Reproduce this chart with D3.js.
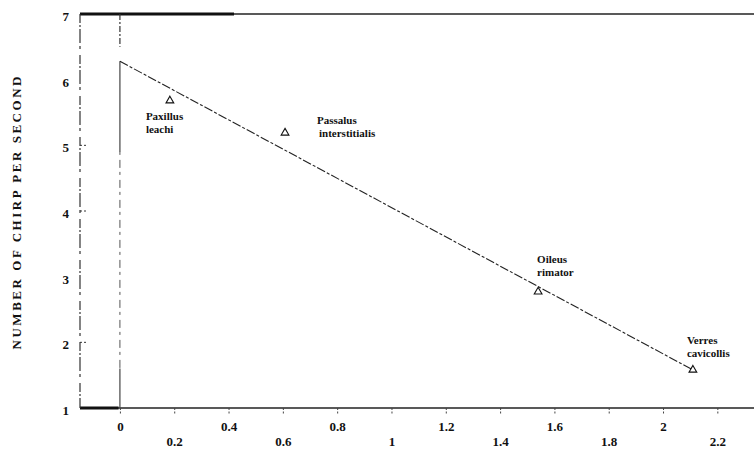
<!DOCTYPE html>
<html>
<head>
<meta charset="utf-8">
<script src="https://cdn.jsdelivr.net/npm/d3@7"></script>
<style>
  body { margin: 0; background: #fff; }
  text { font-family: "Liberation Serif", serif; fill: #111; }
</style>
</head>
<body>
<script>
// beetles: body weight (x) vs chirps per second (y)
const species = ["Paxillus leachi", "Passalus interstitialis", "Oileus rimator", "Verres cavicollis"];
const weights = [0.184, 0.608, 1.54, 2.11];
const chirps = [5.68, 5.19, 2.77, 1.58];
const fitX = [0, 2.11];
const fitY = [6.28, 1.58];
const xTicks = [0, 0.2, 0.4, 0.6, 0.8, 1, 1.2, 1.4, 1.6, 1.8, 2, 2.2];
const yTicks = [1, 2, 3, 4, 5, 6, 7];

const w = 754;
const h = 452;

const svg = d3.select("body")
  .append("svg")
  .attr("width", w)
  .attr("height", h);

const xScale = d3.scaleLinear()
  .domain([-0.147, 2.335])
  .range([80, 754]);

const yScale = d3.scaleLinear()
  .domain([1, 7])
  .range([408, 14]);

const x0 = xScale.range()[0], x1 = xScale.range()[1];
const yTop = yScale(7), yBot = yScale(1);

// frame
svg.append("line")  // top, thick part
  .attr("x1", x0).attr("x2", 234).attr("y1", yTop).attr("y2", yTop)
  .attr("stroke", "#111").attr("stroke-width", 3);
svg.append("line")
  .attr("x1", 234).attr("x2", x1).attr("y1", yTop).attr("y2", yTop)
  .attr("stroke", "#222").attr("stroke-width", 1.3);
svg.append("line")  // bottom
  .attr("x1", x0).attr("x2", x1).attr("y1", yBot).attr("y2", yBot)
  .attr("stroke", "#222").attr("stroke-width", 1.3);
svg.append("line")
  .attr("x1", x0).attr("x2", xScale(-0.005)).attr("y1", yBot).attr("y2", yBot)
  .attr("stroke", "#111").attr("stroke-width", 3);
svg.append("line")  // left, broken
  .attr("x1", x0).attr("x2", x0).attr("y1", yTop).attr("y2", yBot)
  .attr("stroke", "#333").attr("stroke-width", 1.2)
  .attr("stroke-dasharray", "9,2,2,2,14,3,3,6");

// zero line
svg.append("line")
  .attr("x1", xScale(0)).attr("x2", xScale(0))
  .attr("y1", yTop).attr("y2", yScale(6.5))
  .attr("stroke", "#333").attr("stroke-width", 1.2)
  .attr("stroke-dasharray", "6,2,2,2");
svg.append("line")
  .attr("x1", xScale(0)).attr("x2", xScale(0))
  .attr("y1", yScale(fitY[0])).attr("y2", yScale(4.9))
  .attr("stroke", "#444").attr("stroke-width", 1.2);
svg.append("line")
  .attr("x1", xScale(0)).attr("x2", xScale(0))
  .attr("y1", yScale(4.9)).attr("y2", yScale(1.6))
  .attr("stroke", "#555").attr("stroke-width", 1)
  .attr("stroke-dasharray", "3,5,8,4");
svg.append("line")
  .attr("x1", xScale(0)).attr("x2", xScale(0))
  .attr("y1", yScale(1.6)).attr("y2", yBot)
  .attr("stroke", "#444").attr("stroke-width", 1.2);

// x axis
const xAxis = d3.axisBottom(xScale)
  .tickValues(xTicks)
  .tickSize(7)
  .tickPadding(0)
  .tickFormat(d3.format("~g"));

const gx = svg.append("g")
  .attr("transform", "translate(0," + yBot + ")")
  .call(xAxis);
gx.select(".domain").remove();
gx.selectAll(".tick line")
  .attr("stroke", "#444")
  .attr("stroke-dasharray", "2,1.5");
gx.selectAll(".tick text")
  .attr("dy", null)
  .attr("y", (d, i) => i % 2 === 0 ? 23 : 38)
  .attr("font-size", "13px")
  .attr("font-weight", "bold")
  .attr("font-family", "Liberation Serif")
  .attr("fill", "#111");

// y axis
const yAxis = d3.axisLeft(yScale)
  .tickValues(yTicks)
  .tickSize(0)
  .tickPadding(11)
  .tickFormat(d3.format("d"));

const gy = svg.append("g")
  .attr("transform", "translate(" + x0 + ",0)")
  .call(yAxis);
gy.select(".domain").remove();
gy.selectAll(".tick text")
  .attr("dy", "0.5em")
  .attr("font-size", "13px")
  .attr("font-weight", "bold")
  .attr("font-family", "Liberation Serif")
  .attr("fill", "#111");

// small inward tick marks
svg.selectAll(".ymark")
  .data([5, 4, 2])
  .enter()
  .append("line")
  .attr("class", "ymark")
  .attr("x1", x0).attr("x2", x0 + 7)
  .attr("y1", (d) => yScale(d)).attr("y2", (d) => yScale(d))
  .attr("stroke", "#333")
  .attr("stroke-dasharray", "2,2");

svg.append("text")
  .attr("transform", "translate(21," + 213 + ") rotate(-90)")
  .attr("text-anchor", "middle")
  .attr("font-size", "13px")
  .attr("font-weight", "bold")
  .attr("textLength", 273)
  .attr("lengthAdjust", "spacing")
  .text("NUMBER OF CHIRP PER SECOND");

// regression line
const fit = fitX.map((d, i) => [d, fitY[i]]);
svg.append("path")
  .datum(fit)
  .attr("fill", "none")
  .attr("stroke", "#222")
  .attr("stroke-width", 1.1)
  .attr("stroke-dasharray", "9,2,3,2")
  .attr("d", d3.line().x((d) => xScale(d[0])).y((d) => yScale(d[1])));

// points
const pts = species.map((s, i) => ({ name: s, x: weights[i], y: chirps[i] }));
svg.selectAll(".pt")
  .data(pts)
  .enter()
  .append("path")
  .attr("class", "pt")
  .attr("d", d3.symbol().type(d3.symbolTriangle).size(26))
  .attr("transform", (d) => "translate(" + xScale(d.x) + "," + yScale(d.y) + ")")
  .attr("fill", "#fff")
  .attr("stroke", "#111")
  .attr("stroke-width", 1.1);

// species labels (offsets in px from each point)
const labelDx = [-24, 32, -1, -6];
const labelDy = [19, -9, -29, -26];
svg.selectAll(".lab1")
  .data(pts)
  .enter()
  .append("text")
  .attr("class", "lab1")
  .attr("font-size", "11px")
  .attr("font-weight", "bold")
  .attr("x", (d, i) => xScale(d.x) + labelDx[i])
  .attr("y", (d, i) => yScale(d.y) + labelDy[i])
  .text((d) => d.name.split(" ")[0]);
svg.selectAll(".lab2")
  .data(pts)
  .enter()
  .append("text")
  .attr("class", "lab2")
  .attr("font-size", "11px")
  .attr("font-weight", "bold")
  .attr("x", (d, i) => xScale(d.x) + labelDx[i] + (i === 1 ? 2 : 0))
  .attr("y", (d, i) => yScale(d.y) + labelDy[i] + 13)
  .text((d) => d.name.split(" ")[1]);
</script>
</body>
</html>
